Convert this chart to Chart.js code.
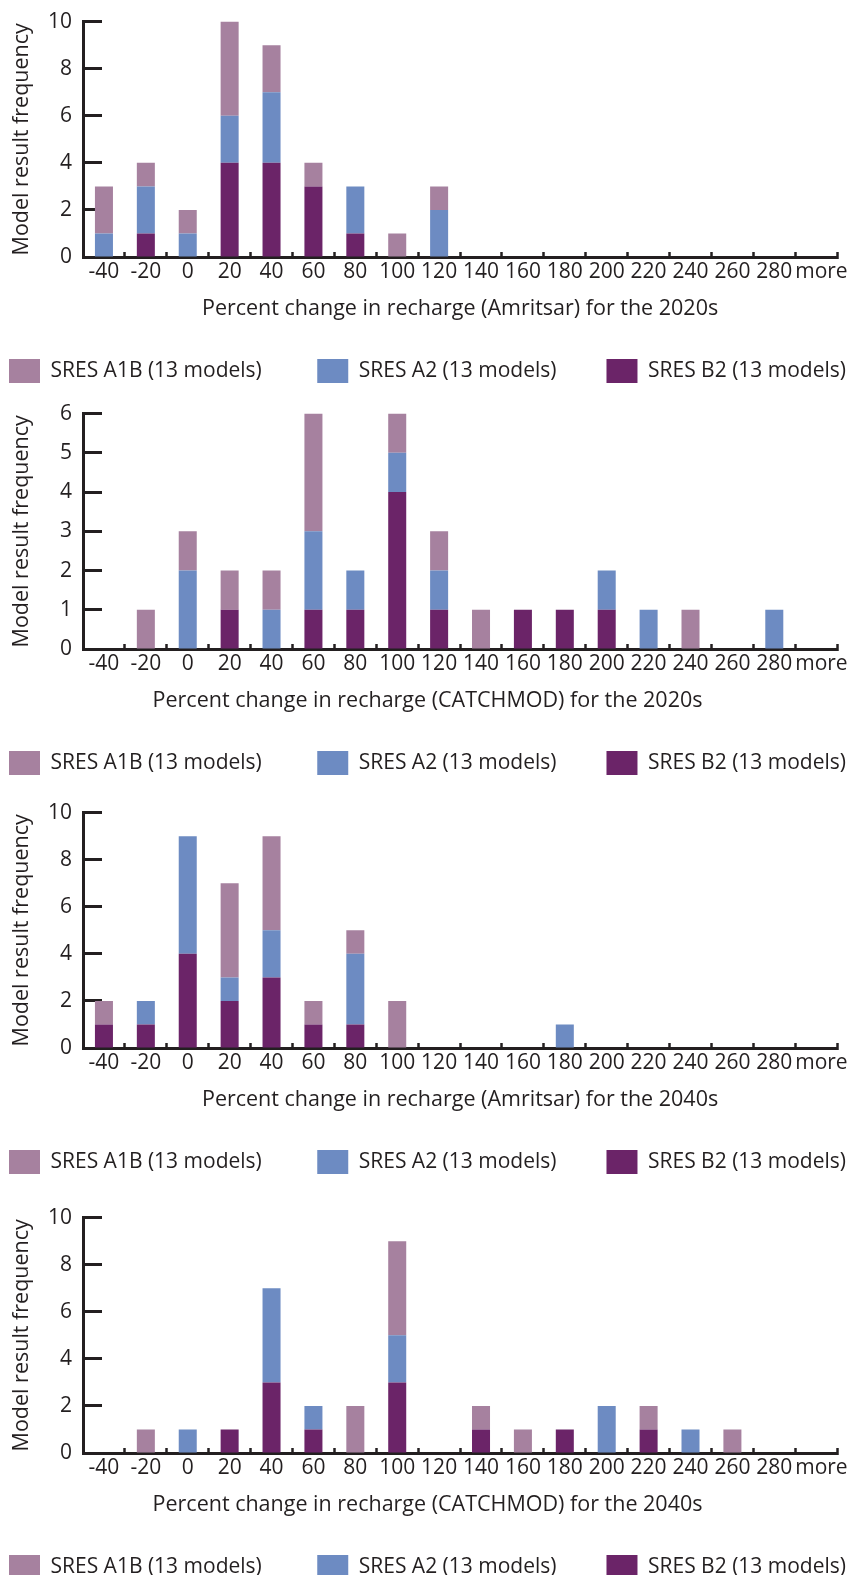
<!DOCTYPE html>
<html><head><meta charset="utf-8">
<script src="https://cdn.jsdelivr.net/npm/chart.js@4"></script>
<style>
html,body{margin:0;padding:0;background:#fff;width:855px;height:1575px;overflow:hidden;position:relative;}
.p{position:absolute;left:0;width:855px;height:400px;}
</style></head><body>
<div class="p" id="d1" style="top:0px"><canvas id="c1"></canvas></div>
<div class="p" id="d2" style="top:392px"><canvas id="c2"></canvas></div>
<div class="p" id="d3" style="top:791px"><canvas id="c3"></canvas></div>
<div class="p" id="d4" style="top:1196px"><canvas id="c4"></canvas></div>
<script>
const categories = ['-40','-20','0','20','40','60','80','100','120','140','160','180','200','220','240','260','280','more'];
const seriesNames = ['SRES A1B (13 models)','SRES A2 (13 models)','SRES B2 (13 models)'];
const seriesColors = ['#a6819f','#6d8bc2','#6b2468'];
const yAxisTitle = 'Model result frequency';

// Amritsar 2020s
const amr2020_A1B = [2,1,1,4,2,1,0,1,1,0,0,0,0,0,0,0,0,0];
const amr2020_A2  = [1,2,1,2,3,0,2,0,2,0,0,0,0,0,0,0,0,0];
const amr2020_B2  = [0,1,0,4,4,3,1,0,0,0,0,0,0,0,0,0,0,0];
// CATCHMOD 2020s
const cat2020_A1B = [0,1,1,1,1,3,0,1,1,1,0,0,0,0,1,0,0,0];
const cat2020_A2  = [0,0,2,0,1,2,1,1,1,0,0,0,1,1,0,0,1,0];
const cat2020_B2  = [0,0,0,1,0,1,1,4,1,0,1,1,1,0,0,0,0,0];
// Amritsar 2040s
const amr2040_A1B = [1,0,0,4,4,1,1,2,0,0,0,0,0,0,0,0,0,0];
const amr2040_A2  = [0,1,5,1,2,0,3,0,0,0,0,1,0,0,0,0,0,0];
const amr2040_B2  = [1,1,4,2,3,1,1,0,0,0,0,0,0,0,0,0,0,0];
// CATCHMOD 2040s
const cat2040_A1B = [0,1,0,0,0,0,2,4,0,1,1,0,0,1,0,1,0,0];
const cat2040_A2  = [0,0,1,0,4,1,0,2,0,0,0,0,2,0,1,0,0,0];
const cat2040_B2  = [0,0,0,1,3,1,0,3,0,1,0,1,0,1,0,0,0,0];

const panels = [
  {id:'c1', div:'d1', top:22,   wide:false, title:'Percent change in recharge (Amritsar) for the 2020s', max:10, step:2, a1b:amr2020_A1B, a2:amr2020_A2, b2:amr2020_B2},
  {id:'c2', div:'d2', top:414,  wide:true,  title:'Percent change in recharge (CATCHMOD) for the 2020s', max:6, step:1, a1b:cat2020_A1B, a2:cat2020_A2, b2:cat2020_B2},
  {id:'c3', div:'d3', top:813,  wide:false, title:'Percent change in recharge (Amritsar) for the 2040s', max:10, step:2, a1b:amr2040_A1B, a2:amr2040_A2, b2:amr2040_B2},
  {id:'c4', div:'d4', top:1218, wide:true,  title:'Percent change in recharge (CATCHMOD) for the 2040s', max:10, step:2, a1b:cat2040_A1B, a2:cat2040_A2, b2:cat2040_B2}
];

const INK = '#231f20';
const FONT = '"Open Sans", sans-serif';
const AREA_H = 235;
Chart.defaults.font.family = FONT;
Chart.defaults.color = INK;

const legendGap = ['\u2003\u2003 ', '\u2003\u2003', ''];

panels.forEach(p => {
  const div = document.getElementById(p.div);
  const chart = new Chart(document.getElementById(p.id), {
    type: 'bar',
    data: {
      labels: categories,
      datasets: [
        {label: seriesNames[2], data: p.b2, backgroundColor: seriesColors[2]},
        {label: seriesNames[1], data: p.a2, backgroundColor: seriesColors[1]},
        {label: seriesNames[0], data: p.a1b, backgroundColor: seriesColors[0]}
      ]
    },
    options: {
      responsive: true,
      maintainAspectRatio: false,
      animation: false,
      layout: {padding: 0},
      datasets: {bar: {categoryPercentage: 1, barPercentage: 0.43, borderWidth: 0}},
      plugins: {
        tooltip: {enabled: false},
        title: {
          display: true,
          text: p.title,
          position: 'bottom',
          weight: 500,
          fullSize: p.wide,
          color: INK,
          font: {size: 21.5, family: FONT, weight: 'normal'},
          padding: {top: 5, bottom: 29}
        },
        legend: {
          position: 'bottom',
          reverse: true,
          labels: {
            boxWidth: 31, boxHeight: 24, padding: 8,
            font: {size: 21, family: FONT}, color: INK,
            generateLabels: (ch) => {
              const items = Chart.defaults.plugins.legend.labels.generateLabels(ch);
              items.forEach(it => {
                it.lineWidth = 0;
                const k = seriesNames.indexOf(it.text);
                it.text = it.text + legendGap[k];
              });
              return items;
            }
          }
        }
      },
      scales: {
        x: {
          stacked: true,
          offset: true,
          grid: {offset: true, drawOnChartArea: false, drawTicks: true, tickLength: -5, tickWidth: 2.5, color: INK},
          border: {display: true, color: INK, width: 3},
          ticks: {
            padding: 7, font: {size: 21, family: FONT}, color: INK, maxRotation: 0, autoSkip: false,
            callback: (v, i) => categories[i] === 'more' ? '\u2002' + categories[i] : categories[i]
          }
        },
        y: {
          stacked: true,
          min: 0, max: p.max,
          afterFit: s => { s.width = 83; },
          grid: {drawOnChartArea: false, drawTicks: true, tickLength: -19, tickWidth: 3, color: INK},
          border: {display: true, color: INK, width: 3},
          ticks: {stepSize: p.step, padding: 30, font: {size: 21, family: FONT}, color: INK},
          title: {display: true, text: yAxisTitle, font: {size: 21.5, family: FONT}, color: INK, padding: {top: 9, bottom: 0}}
        },
        yr: {
          position: 'right',
          display: true,
          grid: {display: false, drawTicks: false},
          border: {display: false},
          ticks: {display: false},
          afterFit: s => { s.width = 12; }
        }
      }
    }
  });
  const ca = chart.chartArea;
  const newH = Math.round(400 + (AREA_H - (ca.bottom - ca.top)));
  div.style.height = newH + 'px';
  chart.resize(855, newH);
  div.style.top = (p.top - chart.chartArea.top) + 'px';
});
</script>
</body></html>
